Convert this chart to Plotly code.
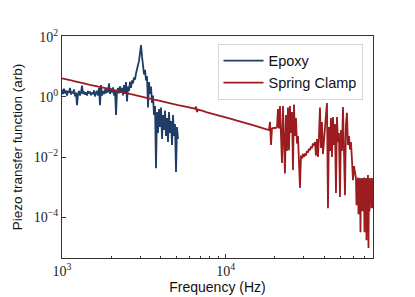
import plotly.graph_objects as go

# ---------------- data ----------------
epoxy_freq = [1000, 1014, 1029, 1043, 1058, 1073, 1088, 1104, 1119, 1135,
              1151, 1168, 1184, 1201, 1218, 1235, 1253, 1270, 1288, 1307,
              1325, 1344, 1363, 1382, 1402, 1422, 1442, 1462, 1483, 1504,
              1525, 1547, 1569, 1591, 1614, 1636, 1660, 1683, 1707, 1731,
              1756, 1781, 1806, 1831, 1857, 1884, 1910, 1937, 1965, 1993,
              2021, 2049, 2078, 2108, 2138, 2168, 2199, 2230, 2262, 2294,
              2326, 2359, 2392, 2426, 2461, 2495, 2531, 2567, 2603, 2640,
              2677, 2715, 2754, 2793, 2832, 2872, 2913, 2954, 2996, 3039,
              3082, 3125, 3170, 3215, 3260, 3306, 3353, 3401, 3449, 3498,
              3547, 3597, 3648, 3700, 3752, 3806, 3859, 3914, 3970, 4026,
              4083, 4141, 4199, 4259, 4319, 4380, 4442, 4505, 4569, 4634,
              4699, 4766, 4833, 4902, 4971, 5042, 5113]
# log10 of the transfer function
epoxy_log_amp = [0.25, 0.10, 0.28, 0.12, 0.22, 0.05, 0.20, 0.15, 0.30, 0.08,
                 0.18, 0.12, 0.25, 0.02, 0.15, -0.27, 0.10, 0.20, 0.05, 0.15,
                 0.38, 0.10, 0.18, 0.08, 0.15, 0.05, 0.20, 0.12, 0.18, 0.06,
                 0.15, 0.10, 0.22, 0.02, 0.14, 0.20, 0.05, 0.30, -0.27, 0.40,
                 0.05, 0.20, 0.10, 0.25, 0.12, 0.30, 0.15, 0.45, 0.10, 0.28,
                 0.15, 0.32, 0.05, 0.25, -0.60, 0.20, 0.30, 0.12, 0.35, 0.15,
                 0.30, 0.05, 0.40, 0.10, 0.50, -0.15, 0.35, 0.20, 0.50, 0.30,
                 0.55, 0.45, 0.65, 0.58, 0.78, 0.90, 1.00, 1.20, 1.45, 1.73,
                 1.35, 1.00, 0.75, 0.90, 0.55, 0.70, -0.35, 0.50, 0.10, 0.35,
                 -0.20, 0.05, -0.60, -0.30, -2.37, -0.50, -1.20, -0.40, -1.00, -0.35,
                 -1.40, -0.60, -1.10, -0.45, -1.30, -0.70, -1.50, -0.50, -1.20, -0.80,
                 -1.60, -0.60, -1.30, -0.90, -2.50, -1.00, -1.40]

clamp_freq = [1000, 1058, 1119, 1184, 1253, 1325, 1402, 1483, 1569, 1660,
              1756, 1857, 1965, 2078, 2199, 2326, 2461, 2603, 2754, 2913,
              3082, 3260, 3449, 3648, 3859, 4083, 4319, 4569, 4833, 5113,
              5408, 5722, 6053, 6313, 6495, 6587, 6680, 6772, 6965, 7165,
              7688, 8249, 8849, 9494, 10185, 10927, 11724, 12580, 13494, 14478,
              15535, 16665, 17631, 18134, 18390, 18650, 18914, 19182, 19452, 19727,
              20005, 20288, 20576, 20867, 21163, 21462, 21766, 22075, 22388, 22705,
              23026, 23352, 23683, 24019, 24359, 24704, 25054, 25409, 25769, 26134,
              26504, 26880, 27260, 27647, 28038, 28435, 28838, 29247, 29661, 30081,
              30507, 30939, 31378, 31822, 32273, 32730, 33194, 33664, 34141, 34625,
              35115, 35613, 36117, 36629, 37148, 37674, 38208, 38749, 39298, 39855,
              40419, 40992, 41572, 42162, 42759, 43365, 43979, 44602, 45234, 45875,
              46525, 47184, 47852, 48530, 49218, 49915, 50622, 51339, 52067, 52804,
              53552, 54311, 55080, 55861, 56652, 57454, 58268, 59094, 59931, 60780,
              61641,
              62514, 62955, 63400, 63848, 64298, 64752, 65209, 65669, 66132, 66599,
              67069, 67542, 68019, 68499, 68983, 69470, 69960, 70454, 70951, 71452,
              71956, 72464, 72976, 73491, 74009, 74531, 75058, 75588, 76121, 76658,
              77199, 77744, 78293, 78846, 79401]
clamp_log_amp = [0.62, 0.60, 0.565, 0.525, 0.505, 0.465, 0.44, 0.405, 0.38, 0.345,
                 0.32, 0.28, 0.258, 0.22, 0.196, 0.16, 0.135, 0.10, 0.074, 0.038,
                 0.012, -0.024, -0.05, -0.086, -0.11, -0.147, -0.172, -0.208, -0.233, -0.27,
                 -0.295, -0.33, -0.355, -0.38, -0.39, -0.32, -0.50, -0.42, -0.43, -0.455,
                 -0.51, -0.552, -0.605, -0.645, -0.69, -0.74, -0.79, -0.83, -0.885, -0.925,
                 -0.978, -1.02, -1.06, -1.08, -1.10, -0.83, -1.60, -1.05, -1.03, -1.04,
                 -1.02, -1.03, -1.01, -0.40, -1.05, -0.30, -1.20, -2.20, -0.30, -1.40,
                 -2.55, -0.60, -1.80, -0.35, -1.77, -0.30, -1.20, -0.50, -2.43, -0.25,
                 -1.30, -0.70, -1.55, -1.30, -2.20, -3.03, -1.95, -2.05, -1.90, -2.00,
                 -1.88, -1.95, -1.80, -1.85, -1.72, -1.77, -1.65, -1.70, -1.55, -1.62,
                 -1.50, -1.95, -1.40, -2.00, -1.30, -0.35, -1.70, -0.83, -1.90, -1.35,
                 -1.20, -0.60, -0.20, -3.70, -1.00, -1.80, -0.70, -2.00, -0.67, -1.60,
                 -0.90, -3.20, -0.67, -1.50, -1.20, -3.33, -1.10, -1.80, -0.33, -1.40,
                 -3.27, -0.90, -0.53, -1.60, -1.30, -1.75, -1.50, -2.10, -2.77, -2.30,
                 -2.50,
                 -2.70, -3.60, -2.75, -3.40, -2.68, -3.90, -2.72, -3.50, -2.70, -4.50,
                 -2.75, -3.60, -2.70, -3.80, -2.72, -3.50, -2.68, -4.50, -2.75, -3.70,
                 -2.70, -4.77, -2.72, -3.60, -2.60, -5.03, -2.72, -3.80, -2.70, -3.50,
                 -2.75, -3.70, -2.70, -3.40, -3.70]

x_tick_vals = [1e3, 1e4]
x_tick_text = ["10<sup>3</sup>", "10<sup>4</sup>"]
x_minor_vals = [2000, 3000, 4000, 5000, 6000, 7000, 8000, 9000,
                20000, 30000, 40000, 50000, 60000, 70000]
y_tick_vals = [1e-4, 1e-2, 1e0, 1e2]
y_tick_text = ["10<sup>\u22124</sup>", "10<sup>\u22122</sup>", "10<sup>0</sup>", "10<sup>2</sup>"]

series_names = ["Epoxy", "Spring Clamp"]
series_colors = ["#1f3d66", "#9b1d20"]

# ---------------- figure ----------------
n_e = min(len(epoxy_freq), len(epoxy_log_amp))
n_c = min(len(clamp_freq), len(clamp_log_amp))

fig = go.Figure()
fig.add_trace(go.Scatter(
    x=epoxy_freq[:n_e], y=[10 ** v for v in epoxy_log_amp[:n_e]],
    mode="lines", name=series_names[0],
    line=dict(color=series_colors[0], width=1.8)))
fig.add_trace(go.Scatter(
    x=clamp_freq[:n_c], y=[10 ** v for v in clamp_log_amp[:n_c]],
    mode="lines", name=series_names[1],
    line=dict(color=series_colors[1], width=1.8)))

sans = "Liberation Sans"
serif = "Liberation Serif"

fig.update_layout(
    width=415, height=297,
    margin=dict(l=62, r=42, t=36, b=39),
    paper_bgcolor="white", plot_bgcolor="white",
    showlegend=True,
    legend=dict(x=0.50, y=0.965, xanchor="left", yanchor="top",
                bgcolor="rgba(255,255,255,0.8)", bordercolor="#d6d6d6", borderwidth=1,
                font=dict(family=sans, size=14.5, color="#111111"),
                itemwidth=40),
)
fig.update_xaxes(
    type="log", range=[3, 4.9], automargin=False,
    showgrid=False, zeroline=False,
    showline=True, linecolor="#333333", linewidth=1, mirror=True,
    ticks="inside", ticklen=4, tickwidth=1, tickcolor="#333333",
    tickmode="array", tickvals=x_tick_vals, ticktext=x_tick_text,
    tickfont=dict(family=serif, size=14, color="#222222"),
    minor=dict(tickmode="array", tickvals=x_minor_vals, ticks="inside",
               ticklen=2, tickcolor="#333333", tickwidth=1, showgrid=False),
    title=dict(text="Frequency (Hz)", font=dict(family=sans, size=14, color="#111111"),
               standoff=4),
)
fig.update_yaxes(
    type="log", range=[-5.36, 2.03], automargin=False,
    showgrid=False, zeroline=False,
    showline=True, linecolor="#333333", linewidth=1, mirror=True,
    ticks="inside", ticklen=4, tickwidth=1, tickcolor="#333333",
    tickmode="array", tickvals=y_tick_vals, ticktext=y_tick_text,
    tickfont=dict(family=serif, size=14, color="#222222"),
    title=dict(text="Piezo transfer function (arb)",
               font=dict(family=sans, size=13.5, color="#111111"), standoff=8),
)

fig.write_html("out.html",
               config={"displayModeBar": False},
               post_script="document.body.style.margin='0';document.body.style.overflow='hidden';")
